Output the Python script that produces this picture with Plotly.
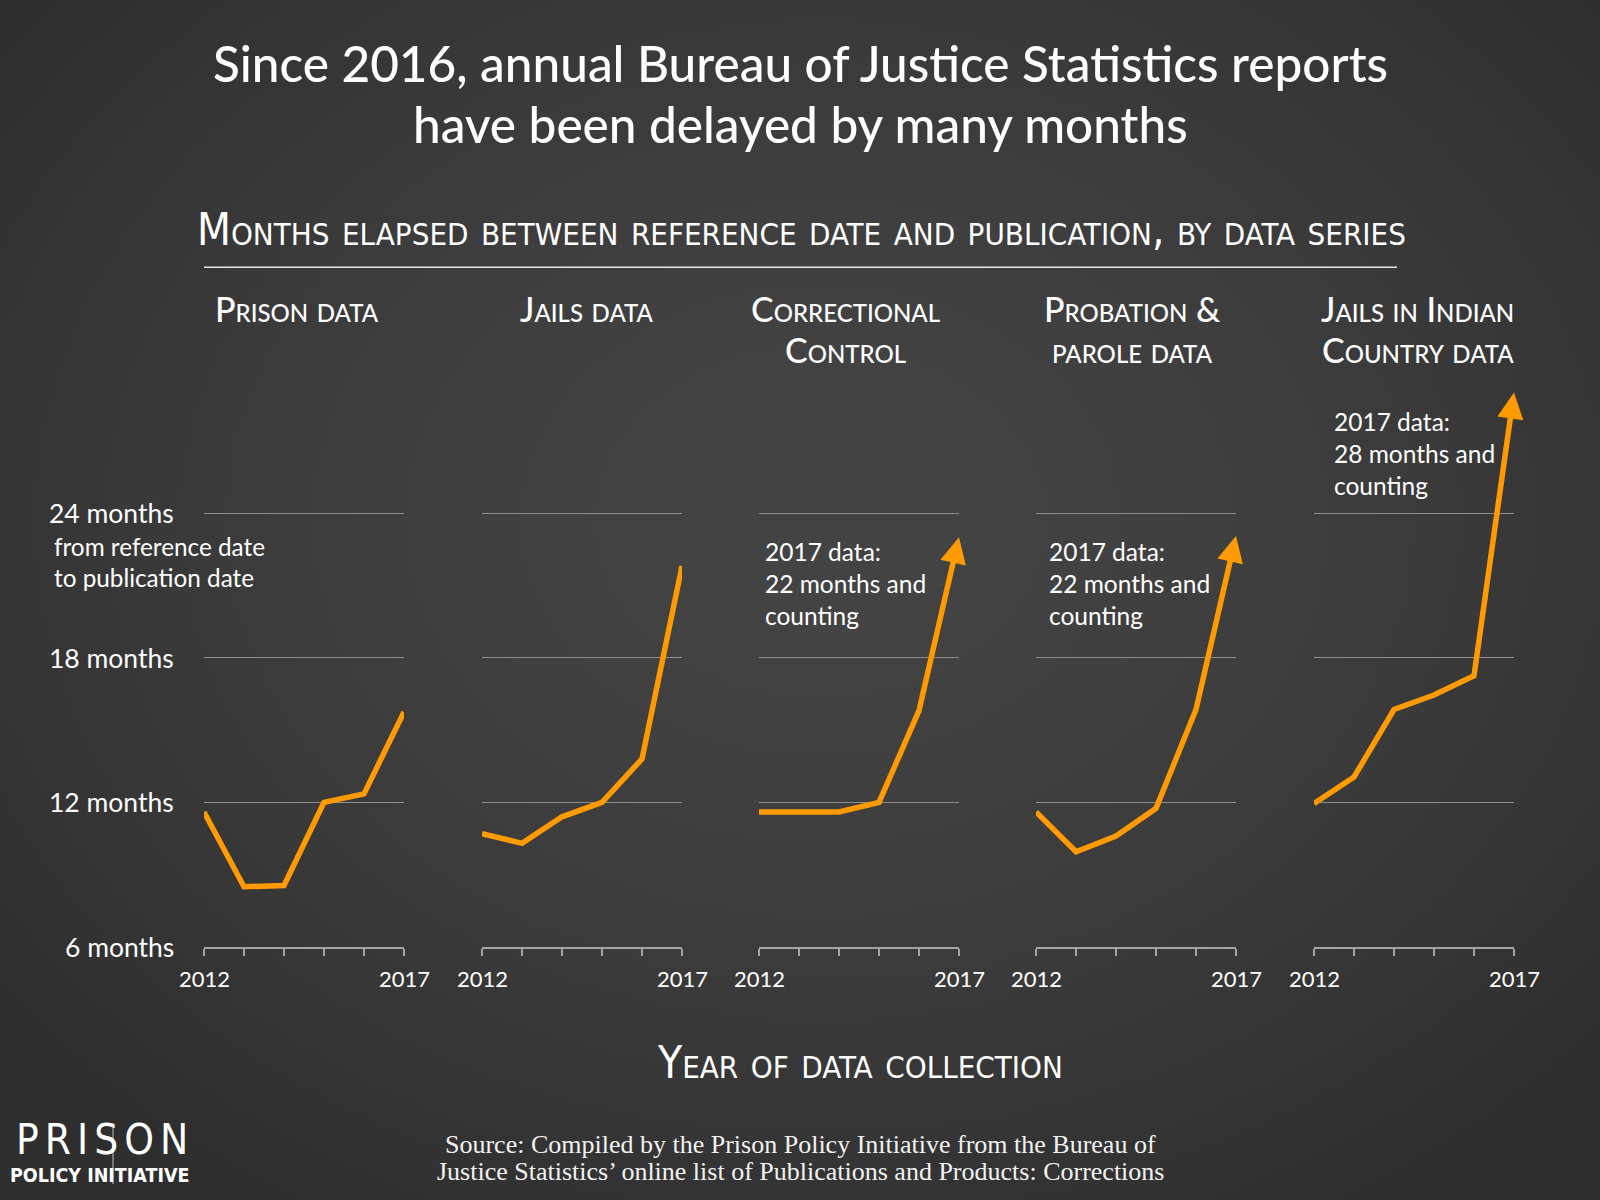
import base64
import struct
import zlib

import numpy as np
import plotly.graph_objects as go

# ---------------- data ----------------
years = [2012, 2013, 2014, 2015, 2016, 2017]
year_labels = ["2012", "", "", "", "", "2017"]

prison_months = [11.6, 8.5, 8.55, 12.0, 12.35, 15.75]
jails_months = [10.7, 10.3, 11.4, 12.0, 13.8, 21.8]
correctional_months = [11.6, 11.6, 11.6, 12.0, 15.8, 23.0]
probation_months = [11.6, 9.95, 10.6, 11.75, 15.85, 23.05]
indian_country_months = [11.95, 13.05, 15.85, 16.45, 17.25, 29.0]

series_values = [prison_months, jails_months, correctional_months,
                 probation_months, indian_country_months]
series_titles = [["Prison data"], ["Jails data"], ["Correctional", "Control"],
                 ["Probation &", "parole data"], ["Jails in Indian", "Country data"]]
still_counting = [False, False, True, True, True]
series_notes = [None, None,
                ["2017 data:", "22 months and", "counting"],
                ["2017 data:", "22 months and", "counting"],
                ["2017 data:", "28 months and", "counting"]]

month_ticks = [6, 12, 18, 24]
month_tick_labels = ["6 months", "12 months", "18 months", "24 months"]

title_lines = ["Since 2016, annual Bureau of Justice Statistics reports",
               "have been delayed by many months"]
subtitle = "Months elapsed between reference date and publication, by data series"
axis_note = ["from reference date", "to publication date"]
x_title = "Year of data collection"
source_lines = ["Source: Compiled by the Prison Policy Initiative from the Bureau of",
                "Justice Statistics\u2019 online list of Publications and Products: Corrections"]

# ---------------- layout / style ----------------
W, H = 1600, 1200
ORANGE = "#ff9a00"
WHITE = "#ffffff"
GRID = "#8e8e8e"
AXIS = "#a4a4a4"
SANS = "Lato, 'Open Sans', sans-serif"
NARROW = "'Liberation Sans Narrow', 'DejaVu Sans Condensed', 'Arial Narrow', sans-serif"
SERIF = "'Liberation Serif', 'DejaVu Serif', serif"

panel_left_px = [204, 482, 759, 1036, 1314]
panel_width_px = 200
header_center_px = [296.5, 586.5, 845.5, 1132.5, 1417.5]
header_baselines_px = [322, 363]
note_left_px = [None, None, 763, 1046.5, 1331.5]
note_first_baseline_px = [None, None, 561, 561, 430.6]
note_line_gap_px = 32.1

y_range = [6, 29.5]
y_bottom_px = 947.0
px_per_month = 24.11
y_top_px = y_bottom_px - (y_range[1] - y_range[0]) * px_per_month


def py(px):
    return 1 - px / H


def px_x(px):
    return px / W


CENTER_OFF = {"lato": 0.387, "narrow": 0.3465, "serif": 0.3375}


def center_from_baseline(baseline, size, kind):
    return baseline - CENTER_OFF[kind] * size


# ---------------- background gradient (png data uri) ----------------
gw, gh = 320, 240
gx = np.linspace(0, W, gw)[None, :]
gy = np.linspace(0, H, gh)[:, None]
d = np.sqrt(((gx - 820) / 1050) ** 2 + ((gy - 520) / 820) ** 2)
d = np.clip(d, 0, 1)
val = 68 - 22 * d ** 1.6
img = np.repeat(val[:, :, None], 3, axis=2).astype(np.uint8)
raw = b"".join(b"\x00" + img[r].tobytes() for r in range(gh))


def _chunk(t, data):
    return struct.pack(">I", len(data)) + t + data + struct.pack(">I", zlib.crc32(t + data) & 0xFFFFFFFF)


png = (b"\x89PNG\r\n\x1a\n" + _chunk(b"IHDR", struct.pack(">IIBBBBB", gw, gh, 8, 2, 0, 0, 0))
       + _chunk(b"IDAT", zlib.compress(raw, 9)) + _chunk(b"IEND", b""))
bg_uri = "data:image/png;base64," + base64.b64encode(png).decode()

# ---------------- figure ----------------
fig = go.Figure()
annotations = []
layout_axes = {}

HEAD_SIZE = 34
NOTE_SIZE = 24.5
LINE_W = 5.5

for i, vals in enumerate(series_values):
    n = i + 1
    xa = "x" if n == 1 else f"x{n}"
    ya = "y" if n == 1 else f"y{n}"
    left = panel_left_px[i]
    dom_x = [px_x(left), px_x(left + panel_width_px)]
    dom_y = [py(y_bottom_px), py(y_top_px)]
    layout_axes["xaxis" if n == 1 else f"xaxis{n}"] = dict(
        domain=dom_x, range=[years[0], years[-1]], anchor=ya,
        showgrid=False, zeroline=False, showline=True, linecolor=AXIS, linewidth=2,
        ticks="outside", ticklen=7, tickwidth=2, tickcolor=AXIS,
        tickvals=years, ticktext=year_labels, showticklabels=False, fixedrange=True)
    layout_axes["yaxis" if n == 1 else f"yaxis{n}"] = dict(
        domain=dom_y, range=y_range, anchor=xa,
        tickvals=month_ticks[1:], showgrid=True, gridcolor=GRID, gridwidth=1,
        showticklabels=False, zeroline=False, showline=False, fixedrange=True)

    n_line = 5 if still_counting[i] else 6
    fig.add_trace(go.Scatter(
        x=years[:n_line], y=vals[:n_line], xaxis=xa, yaxis=ya, mode="lines",
        line=dict(color=ORANGE, width=LINE_W), cliponaxis=False, hoverinfo="skip",
        showlegend=False))
    if still_counting[i]:
        # round joint where the line meets the arrow
        fig.add_trace(go.Scatter(
            x=[years[4]], y=[vals[4]], xaxis=xa, yaxis=ya, mode="markers",
            marker=dict(color=ORANGE, size=LINE_W, line=dict(width=0)),
            cliponaxis=False, hoverinfo="skip", showlegend=False))
        annotations.append(dict(
            x=years[5], y=vals[5], xref=xa, yref=ya,
            ax=years[4], ay=vals[4], axref=xa, ayref=ya,
            text="", showarrow=True, arrowhead=2, arrowsize=0.95,
            arrowwidth=LINE_W, arrowcolor=ORANGE, standoff=0, startstandoff=0))

    # year labels under axis ends
    for yr, lab in zip(years, year_labels):
        if lab:
            annotations.append(dict(
                x=yr, y=y_range[0], xref=xa, yref=ya, text=lab, showarrow=False,
                xanchor="center", yanchor="middle",
                yshift=-(center_from_baseline(987, 22, "lato") - y_bottom_px),
                font=dict(family=SANS, size=22, color=WHITE)))

    # panel header
    for k, line in enumerate(series_titles[i]):
        annotations.append(dict(
            x=px_x(header_center_px[i]),
            y=py(center_from_baseline(header_baselines_px[k], HEAD_SIZE, "lato")),
            xref="paper", yref="paper", text=line, showarrow=False,
            xanchor="center", yanchor="middle",
            font=dict(family=SANS, size=HEAD_SIZE, color=WHITE, variant="small-caps", weight=500)))

    # notes
    if series_notes[i]:
        for k, line in enumerate(series_notes[i]):
            b = note_first_baseline_px[i] + k * note_line_gap_px
            annotations.append(dict(
                x=px_x(note_left_px[i]), y=py(center_from_baseline(b, NOTE_SIZE, "lato")),
                xref="paper", yref="paper", text=line, showarrow=False,
                xanchor="left", yanchor="middle",
                font=dict(family=SANS, size=NOTE_SIZE, color=WHITE)))

# y labels (first panel)
for v, lab in zip(month_ticks, month_tick_labels):
    annotations.append(dict(
        x=px_x(176), y=v, xref="paper", yref="y", text=lab, showarrow=False,
        xanchor="right", yanchor="middle",
        font=dict(family=SANS, size=26.5, color=WHITE)))
for k, line in enumerate(axis_note):
    annotations.append(dict(
        x=px_x(52), y=py(center_from_baseline([555.5, 587][k], 24.3, "lato")),
        xref="paper", yref="paper", text=line, showarrow=False,
        xanchor="left", yanchor="middle",
        font=dict(family=SANS, size=24.3, color=WHITE)))

# titles
for k, line in enumerate(title_lines):
    annotations.append(dict(
        x=0.5, y=py(center_from_baseline([82, 143][k], 49.5, "lato")),
        xref="paper", yref="paper", text=line, showarrow=False,
        xanchor="center", yanchor="middle",
        font=dict(family=SANS, size=49.5, color=WHITE, weight=500)))

annotations.append(dict(
    x=px_x(801.5), y=py(center_from_baseline(245, 43.7, "narrow")),
    xref="paper", yref="paper", text=subtitle, showarrow=False,
    xanchor="center", yanchor="middle",
    font=dict(family=NARROW, size=43.7, color=WHITE, variant="small-caps")))

annotations.append(dict(
    x=px_x(859.5), y=py(center_from_baseline(1078, 44, "narrow")),
    xref="paper", yref="paper", text=x_title, showarrow=False,
    xanchor="center", yanchor="middle",
    font=dict(family=NARROW, size=44, color=WHITE, variant="small-caps")))

for k, line in enumerate(source_lines):
    annotations.append(dict(
        x=0.5, y=py(center_from_baseline([1153.3, 1180.5][k], 26, "serif")),
        xref="paper", yref="paper", text=line, showarrow=False,
        xanchor="center", yanchor="middle",
        font=dict(family=SERIF, size=26, color="#f2f2f2")))

# logo
annotations.append(dict(
    x=px_x(14), y=py(center_from_baseline(1154, 42, "narrow")),
    xref="paper", yref="paper", text='<span style="letter-spacing:6px">PRISON</span>',
    showarrow=False, xanchor="left", yanchor="middle",
    font=dict(family=NARROW, size=42, color=WHITE)))
annotations.append(dict(
    x=px_x(8), y=py(center_from_baseline(1182, 19.5, "narrow")),
    xref="paper", yref="paper", text="POLICY INITIATIVE",
    showarrow=False, xanchor="left", yanchor="middle",
    font=dict(family=NARROW, size=19.5, color=WHITE, weight=700)))

shapes = [
    dict(type="line", xref="paper", yref="paper", x0=px_x(204), x1=px_x(1397),
         y0=py(267.3), y1=py(267.3), line=dict(color="#e6e6e6", width=1.5)),
    dict(type="line", xref="paper", yref="paper", x0=px_x(113), x1=px_x(113),
         y0=py(1126), y1=py(1184), line=dict(color="#bdbdbd", width=1)),
]

fig.update_layout(
    width=W, height=H, margin=dict(l=0, r=0, t=0, b=0),
    paper_bgcolor="#3a3a3a", plot_bgcolor="rgba(0,0,0,0)",
    showlegend=False, annotations=annotations, shapes=shapes,
    images=[dict(source=bg_uri, xref="paper", yref="paper", x=0, y=1, sizex=1, sizey=1,
                 xanchor="left", yanchor="top", sizing="stretch", layer="below")],
    **layout_axes)

fig.write_html("out.html")
